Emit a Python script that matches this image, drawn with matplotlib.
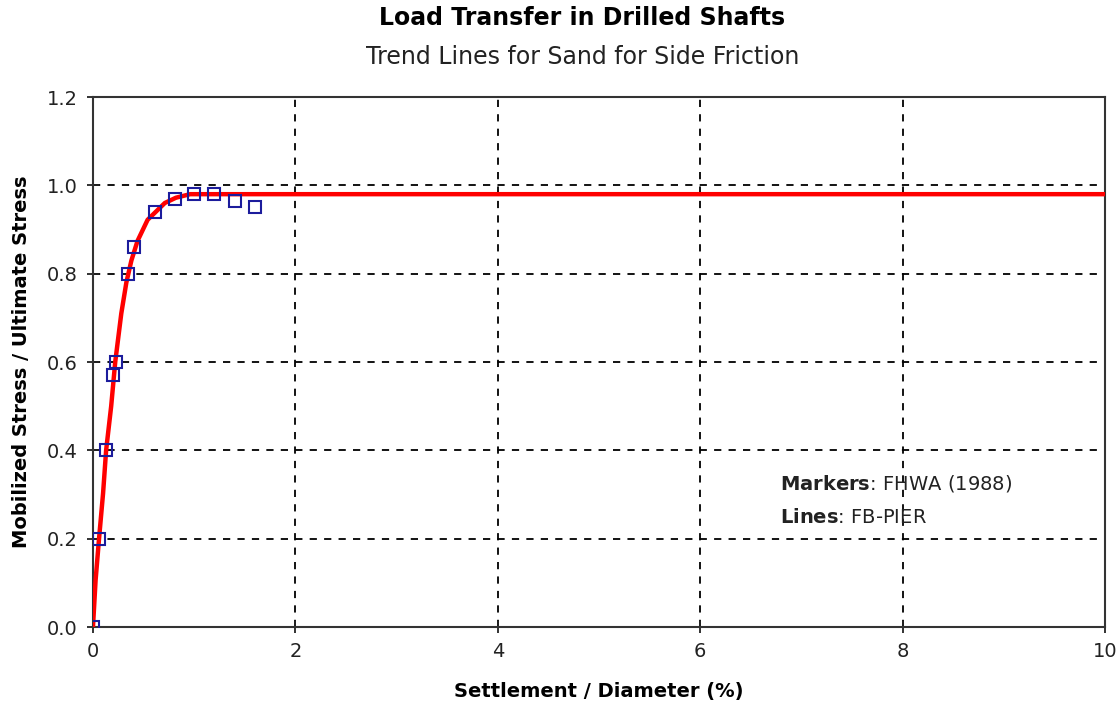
import numpy as np
import matplotlib
matplotlib.use('Agg')
import matplotlib.pyplot as plt

plt.rcParams['font.family'] = ['DejaVu Sans']
plt.rcParams['mathtext.fontset'] = 'dejavusans'

# FHWA (1988) markers
fhwa_x = [0.0, 0.06, 0.13, 0.20, 0.23, 0.35, 0.41, 0.61, 0.81, 1.0, 1.2, 1.4, 1.6]
fhwa_y = [0.0, 0.20, 0.40, 0.57, 0.60, 0.80, 0.86, 0.94, 0.97, 0.98, 0.98, 0.965, 0.95]

# FB-PIER trend line
line_x = [0.0, 0.026, 0.06, 0.10, 0.13, 0.18, 0.22, 0.28, 0.33, 0.38, 0.44, 0.54, 0.71, 0.82, 0.96, 10.0]
line_y = [0.0, 0.106, 0.20, 0.303, 0.40, 0.50, 0.60, 0.71, 0.78, 0.83, 0.874, 0.922, 0.96, 0.972, 0.98, 0.98]

fig = plt.figure(figsize=(11.16, 7.17), dpi=100)
ax = fig.add_axes([0.0833, 0.1255, 0.9068, 0.7392])

ax.plot(line_x, line_y, color='#ff0000', lw=3.2, zorder=3)
ax.plot(fhwa_x, fhwa_y, ls='none', marker='s', ms=8, mfc='none', mec='#1c1c9c', mew=1.5, zorder=4)

ax.set_xlim(0, 10)
ax.set_ylim(0, 1.2)
ax.set_xticks(np.arange(0, 11, 2))
ax.set_yticks(np.arange(0, 1.21, 0.2))
ax.set_yticklabels(['%.1f' % v for v in np.arange(0, 1.21, 0.2)])
ax.grid(True, color='black', ls=(0, (4, 4)), lw=1.3)
ax.tick_params(direction='inout', length=8, width=1.3, labelsize=14, colors='#222222', pad=7)
for s in ax.spines.values():
    s.set_linewidth(1.5)
    s.set_color('#333333')

ax.set_xlabel('Settlement / Diameter (%)', fontsize=14, fontweight='bold', labelpad=15)
ax.set_ylabel('Mobilized Stress / Ultimate Stress', fontsize=14, fontweight='bold', labelpad=11)

fig.text(0.522, 0.975, 'Load Transfer in Drilled Shafts', ha='center', va='center',
         fontsize=17, fontweight='bold')
fig.text(0.522, 0.921, 'Trend Lines for Sand for Side Friction', ha='center', va='center',
         fontsize=17, color='#222222')

ax.text(6.79, 0.326, r'$\bf{Markers}$: FHWA (1988)', fontsize=14, va='center', color='#222222')
ax.text(6.79, 0.247, r'$\bf{Lines}$: FB-PIER', fontsize=14, va='center', color='#222222')

fig.savefig('out.png', dpi=100)
